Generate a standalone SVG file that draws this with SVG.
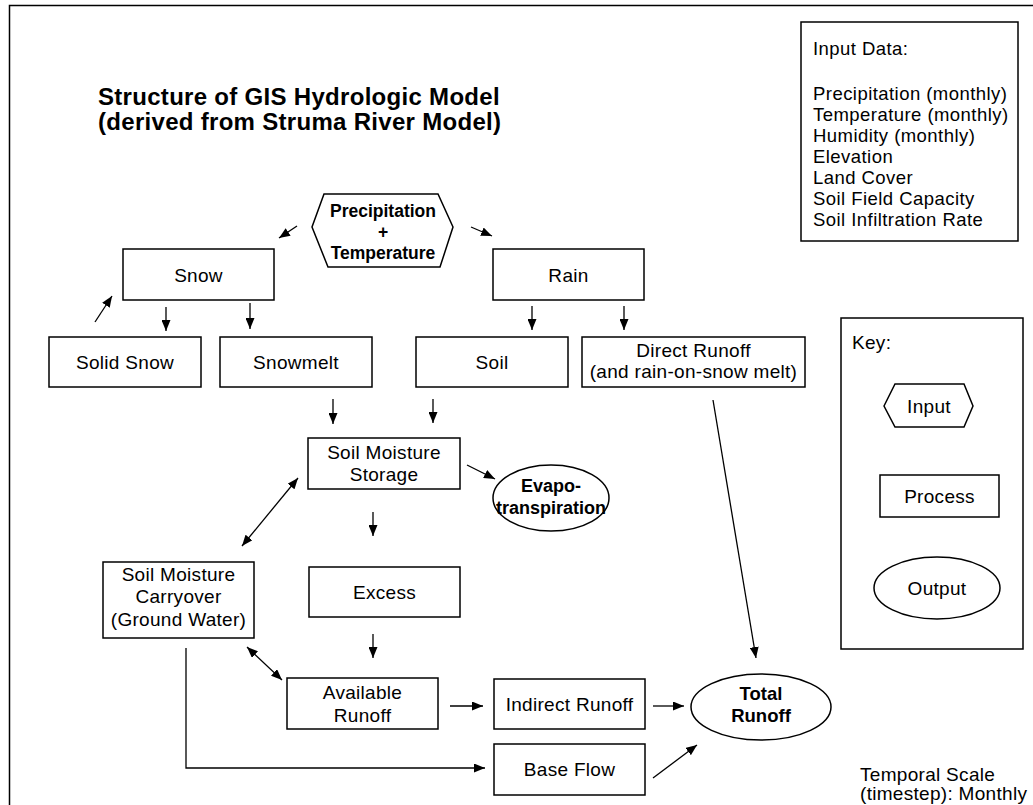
<svg xmlns="http://www.w3.org/2000/svg" width="1033" height="805" viewBox="0 0 1033 805">
<defs>
<style>
.box{fill:#fff;stroke:#000;stroke-width:1.5}
.frame{fill:#fff;stroke:#000;stroke-width:1.5}
.t{font-family:"Liberation Sans",Arial,sans-serif;font-size:19px;letter-spacing:0.3px;fill:#000;text-anchor:middle}
.tl{font-family:"Liberation Sans",Arial,sans-serif;font-size:19px;letter-spacing:0.3px;fill:#000}
.ti{font-family:"Liberation Sans",Arial,sans-serif;font-size:18.5px;letter-spacing:0.45px;fill:#000}
.b{font-family:"Liberation Sans",Arial,sans-serif;font-size:18px;font-weight:bold;fill:#000;text-anchor:middle}
.title{font-family:"Liberation Sans",Arial,sans-serif;font-size:24px;font-weight:bold;letter-spacing:0.3px;fill:#000}
.c{fill:none;stroke:#000;stroke-width:1.3}
</style>
<marker id="ah" markerWidth="11" markerHeight="9" refX="11" refY="4.5" orient="auto-start-reverse" markerUnits="userSpaceOnUse">
<path d="M0,0 L11,4.5 L0,9 z" fill="#000"/>
</marker>
</defs>
<rect x="0" y="0" width="1033" height="805" fill="#fff"/>
<rect class="frame" x="9.5" y="5.5" width="1040" height="820"/>
<g id="title">
<text class="title" x="98" y="105">Structure of GIS Hydrologic Model</text>
<text class="title" x="98" y="130">(derived from Struma River Model)</text>
</g>
<g id="input-data">
<rect class="box" x="801" y="22" width="217" height="219"/>
<text class="ti" x="813" y="55">Input Data:</text>
<text class="ti" x="813" y="100">Precipitation (monthly)</text>
<text class="ti" x="813" y="121">Temperature (monthly)</text>
<text class="ti" x="813" y="142">Humidity (monthly)</text>
<text class="ti" x="813" y="163">Elevation</text>
<text class="ti" x="813" y="184">Land Cover</text>
<text class="ti" x="813" y="205">Soil Field Capacity</text>
<text class="ti" x="813" y="226">Soil Infiltration Rate</text>
</g>
<g id="key">
<rect class="box" x="841" y="318" width="182" height="331"/>
<text class="tl" x="852" y="349">Key:</text>
<polygon class="box" points="884,406 895,384 964,384 973,406 964,427 895,427"/>
<text class="t" x="929" y="413">Input</text>
<rect class="box" x="880" y="475" width="119" height="42"/>
<text class="t" x="939.5" y="503">Process</text>
<ellipse class="box" cx="937" cy="588" rx="63" ry="31"/>
<text class="t" x="937" y="595">Output</text>
</g>
<g id="precip">
<polygon class="box" points="324,194 438,194 453,227 440,267 328,267 312,227"/>
<text class="b" style="font-size:17.5px" x="383" y="217">Precipitation</text>
<text class="b" style="font-size:17.5px" x="383" y="238">+</text>
<text class="b" style="font-size:17.5px" x="383" y="259">Temperature</text>
</g>
<g id="snow"><rect class="box" x="123" y="249" width="151" height="51"/><text class="t" x="198.5" y="282">Snow</text></g>
<g id="rain"><rect class="box" x="493" y="249" width="151" height="51"/><text class="t" x="568.5" y="282">Rain</text></g>
<g id="solid-snow"><rect class="box" x="49" y="337" width="152" height="50"/><text class="t" x="125" y="369">Solid Snow</text></g>
<g id="snowmelt"><rect class="box" x="220" y="337" width="152" height="50"/><text class="t" x="296" y="369">Snowmelt</text></g>
<g id="soil"><rect class="box" x="416" y="337" width="152" height="50"/><text class="t" x="492" y="369">Soil</text></g>
<g id="direct-runoff"><rect class="box" x="582" y="337" width="223" height="50"/><text class="t" x="693.5" y="357">Direct Runoff</text><text class="t" x="693.5" y="378">(and rain-on-snow melt)</text></g>
<g id="sms"><rect class="box" x="308" y="438" width="152" height="51"/><text class="t" x="384" y="459">Soil Moisture</text><text class="t" x="384" y="481">Storage</text></g>
<g id="evapo"><ellipse class="box" cx="551" cy="498" rx="58" ry="33"/><text class="b" x="551" y="492">Evapo-</text><text class="b" x="551" y="514">transpiration</text></g>
<g id="excess"><rect class="box" x="309" y="567" width="151" height="50"/><text class="t" x="384.5" y="599">Excess</text></g>
<g id="carryover"><rect class="box" x="103" y="562" width="151" height="76"/><text class="t" x="178.5" y="581">Soil Moisture</text><text class="t" x="178.5" y="603">Carryover</text><text class="t" x="178.5" y="626">(Ground Water)</text></g>
<g id="available"><rect class="box" x="287" y="678" width="151" height="51"/><text class="t" x="362.5" y="699">Available</text><text class="t" x="362.5" y="722">Runoff</text></g>
<g id="indirect"><rect class="box" x="494" y="679" width="151" height="50"/><text class="t" x="569.5" y="711">Indirect Runoff</text></g>
<g id="baseflow"><rect class="box" x="494" y="744" width="151" height="51"/><text class="t" x="569.5" y="776">Base Flow</text></g>
<g id="total"><ellipse class="box" cx="761" cy="707" rx="70" ry="33"/><text class="b" style="font-size:18.5px" x="761" y="700">Total</text><text class="b" style="font-size:18.5px" x="761" y="722">Runoff</text></g>
<g id="temporal"><text class="tl" x="860" y="781">Temporal Scale</text><text class="tl" x="860" y="800">(timestep): Monthly</text></g>
<g id="connectors">
<line class="c" x1="297" y1="226" x2="279" y2="238" marker-end="url(#ah)"/>
<line class="c" x1="471" y1="227" x2="492" y2="236" marker-end="url(#ah)"/>
<line class="c" x1="166" y1="307" x2="166" y2="331" marker-end="url(#ah)"/>
<line class="c" x1="250" y1="303" x2="250" y2="329" marker-end="url(#ah)"/>
<line class="c" x1="95" y1="322" x2="112" y2="296" marker-end="url(#ah)"/>
<line class="c" x1="532" y1="306" x2="532" y2="330" marker-end="url(#ah)"/>
<line class="c" x1="624" y1="306" x2="624" y2="330" marker-end="url(#ah)"/>
<line class="c" x1="333" y1="399" x2="333" y2="424" marker-end="url(#ah)"/>
<line class="c" x1="433" y1="399" x2="433" y2="423" marker-end="url(#ah)"/>
<line class="c" x1="467" y1="465" x2="495" y2="479" marker-end="url(#ah)"/>
<line class="c" x1="298" y1="478" x2="242" y2="546" marker-start="url(#ah)" marker-end="url(#ah)"/>
<line class="c" x1="373" y1="512" x2="373" y2="536" marker-end="url(#ah)"/>
<line class="c" x1="373" y1="634" x2="373" y2="658" marker-end="url(#ah)"/>
<line class="c" x1="247" y1="647" x2="282" y2="680" marker-start="url(#ah)" marker-end="url(#ah)"/>
<line class="c" x1="450" y1="706" x2="483" y2="706" marker-end="url(#ah)"/>
<polyline class="c" points="186,648 186,768 485,768" marker-end="url(#ah)"/>
<line class="c" x1="653" y1="706" x2="684" y2="706" marker-end="url(#ah)"/>
<line class="c" x1="653" y1="778" x2="697" y2="745" marker-end="url(#ah)"/>
<line class="c" x1="713" y1="400" x2="756" y2="658" marker-end="url(#ah)"/>
</g>
</svg>
